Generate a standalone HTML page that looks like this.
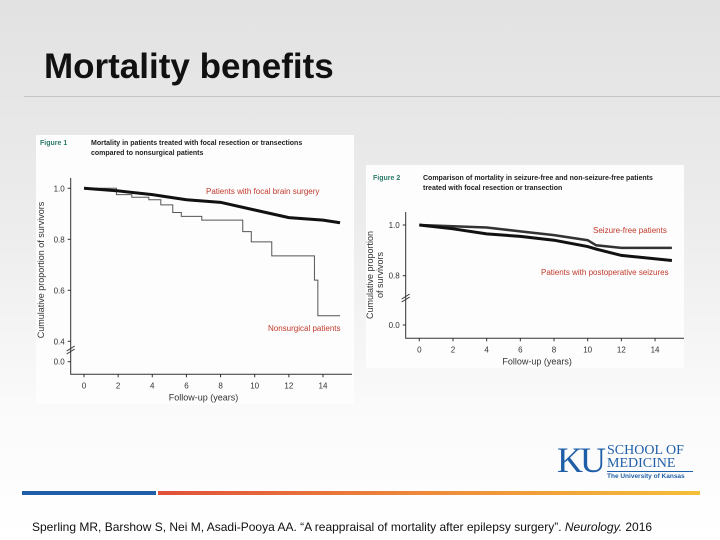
<!DOCTYPE html>
<html><head><meta charset="utf-8"><style>
body{margin:0;width:720px;height:540px;overflow:hidden;font-family:"Liberation Sans",sans-serif;}
#slide{position:relative;width:720px;height:540px;background:linear-gradient(#e2e2e2 0%,#ececec 40%,#fafafa 75%,#fff 100%);}
.abs{position:absolute;}
</style></head><body>
<div id="slide">
<div class="abs" style="left:44px;top:47px;font-size:35px;font-weight:bold;color:#111;">Mortality benefits</div>
<div class="abs" style="left:24px;top:96px;width:696px;height:1px;background:#c4c4c4;"></div>
<svg class="abs" style="left:0;top:0" width="720" height="540">
<rect x="36" y="135" width="318" height="269" fill="#fdfdfd"/>
<rect x="366" y="165" width="318" height="203" fill="#fdfdfd"/>
<g id="f1"></g>
<g id="f2"></g>
</svg>
<div class="abs" style="left:557px;top:442px;width:140px;height:40px;">
<div style="position:absolute;left:0;top:-3px;font-family:'Liberation Serif',serif;font-size:36px;color:#1f5fa8;letter-spacing:-3px;">KU</div>
<div style="position:absolute;left:50px;top:2px;font-family:'Liberation Serif',serif;font-size:14px;line-height:13px;color:#1f5fa8;">SCHOOL OF<br>MEDICINE</div>
<div style="position:absolute;left:50px;top:29px;width:86px;border-top:1px solid #1f5fa8;font-size:6.5px;font-weight:bold;color:#1f5fa8;padding-top:1px;">The University of Kansas</div>
</div>
<div class="abs" style="left:22px;top:491px;width:134px;height:4px;background:#1f5fa8;"></div>
<div class="abs" style="left:158px;top:491px;width:542px;height:4px;background:linear-gradient(90deg,#e0503a,#ee8a3a 50%,#f4bf3a);"></div>
<div class="abs" style="left:32px;top:520px;font-size:12px;color:#111;">Sperling MR, Barshow S, Nei M, Asadi-Pooya AA. “A reappraisal of mortality after epilepsy surgery”. <i>Neurology.</i> 2016</div>
</div>
<script>
const f1Years=[0,2,4,6,8,10,12,14,15];
const f1Surgery=[1.0,0.99,0.975,0.955,0.945,0.915,0.885,0.875,0.865];
const f1NonYears=[0,1.9,2.8,3.8,4.5,5.2,5.7,6.9,9.3,9.8,11,13.5,13.7,15];
const f1Nonsurg=[1.0,0.975,0.965,0.955,0.935,0.905,0.89,0.875,0.83,0.79,0.735,0.64,0.5,0.5];
const f1YTicks=["1.0","0.8","0.6","0.4"];
const f2Years=[0,2,4,6,8,10,10.5,12,15];
const f2SeizureFree=[1.0,0.995,0.99,0.975,0.96,0.94,0.92,0.91,0.91];
const f2Postop=[1.0,0.985,0.965,0.955,0.94,0.915,0.905,0.88,0.86];
const xTicks=[0,2,4,6,8,10,12,14];
const NS='http://www.w3.org/2000/svg';
function mk(p,t,a,txt){const e=document.createElementNS(NS,t);for(const k in a)e.setAttribute(k,a[k]);if(txt!==undefined)e.textContent=txt;p.appendChild(e);return e;}
function chart(g,o){
 const X=v=>o.x0+v*o.xs, Y=v=>v>=o.brk?o.yTop+(1-v)*o.ys:o.yZero;
 const ax=mk(g,'path',{d:`M${o.ax},${o.yAxT}V${o.xAxY}H${o.xAxR}`,stroke:'#333',fill:'none','stroke-width':1});
 
 xTicks.forEach(t=>{mk(g,'line',{x1:X(t),x2:X(t),y1:o.xAxY,y2:o.xAxY+3,stroke:'#333'});
  const l=mk(g,'text',{x:X(t),y:o.xAxY+14,'font-size':8,'text-anchor':'middle',fill:'#333'},t);
  });
 o.yt.concat(["0.0"]).forEach(s=>{const y=s==="0.0"?o.yZero:Y(+s);
  mk(g,'line',{x1:o.ax-3,x2:o.ax,y1:y,y2:y,stroke:'#333'});
  const l=mk(g,'text',{x:o.ax-6,y:y+3,'font-size':8,'text-anchor':'end',fill:'#333'},s);
  });
 const bk=o.brkY;mk(g,'path',{d:`M${o.ax-4},${bk+1}l8,-5M${o.ax-4},${bk+4}l8,-5`,stroke:'#333'});
 const xl=mk(g,'text',{x:X(7),y:o.xAxY+26,'font-size':9,'text-anchor':'middle',fill:'#333'},'Follow-up (years)');
 
 o.series.forEach(s=>{let d='';s.xs.forEach((x,i)=>{d+=(i?(s.step?`H${X(x)}V${Y(s.ys[i])}`:`L${X(x)},${Y(s.ys[i])}`):`M${X(x)},${Y(s.ys[i])}`);});
  const p=mk(g,'path',{d,stroke:s.c,fill:'none','stroke-width':s.w});
  });
}
const g1=document.getElementById('f1');
mk(g1,'text',{x:40,y:145,'font-size':7,fill:'#2a7a6a','font-weight':'bold'},'Figure 1');
mk(g1,'text',{x:91,y:145,'font-size':7,fill:'#222','font-weight':'bold'},'Mortality in patients treated with focal resection or transections');
mk(g1,'text',{x:91,y:155,'font-size':7,fill:'#222','font-weight':'bold'},'compared to nonsurgical patients');
const yl1=mk(g1,'text',{transform:'translate(44,270) rotate(-90)','font-size':9,'text-anchor':'middle',fill:'#333'},'Cumulative proportion of survivors');

chart(g1,{x0:84,xs:17.07,yTop:188.3,ys:255,brk:0.3,yZero:361.7,ax:70.7,yAxT:178,xAxY:374.3,xAxR:352,yt:f1YTicks,brkY:350,
 series:[{xs:f1NonYears,ys:f1Nonsurg,step:true,c:'#555',w:1,name:'nonsurgical-line'},{xs:f1Years,ys:f1Surgery,c:'#111',w:3,name:'surgery-line'}]});
mk(g1,'text',{x:206,y:194,'font-size':8,fill:'#c0392b'},'Patients with focal brain surgery');
mk(g1,'text',{x:268,y:331,'font-size':8,fill:'#c0392b'},'Nonsurgical patients');
const g2=document.getElementById('f2');
mk(g2,'text',{x:373,y:180,'font-size':7,fill:'#2a7a6a','font-weight':'bold'},'Figure 2');
mk(g2,'text',{x:423,y:180,'font-size':7,fill:'#222','font-weight':'bold'},'Comparison of mortality in seizure-free and non-seizure-free patients');
mk(g2,'text',{x:423,y:190,'font-size':7,fill:'#222','font-weight':'bold'},'treated with focal resection or transection');
mk(g2,'text',{transform:'translate(373,275) rotate(-90)','font-size':9,'text-anchor':'middle',fill:'#333'},'Cumulative proportion');
mk(g2,'text',{transform:'translate(383,275) rotate(-90)','font-size':9,'text-anchor':'middle',fill:'#333'},'of survivors');
chart(g2,{x0:419.3,xs:16.84,yTop:225,ys:253.5,brk:0.5,yZero:325,ax:405.7,yAxT:212,xAxY:338.3,xAxR:684,yt:["1.0","0.8"],brkY:298,
 series:[{xs:f2Years,ys:f2SeizureFree,c:'#333',w:2.5,name:'seizure-free-line'},{xs:f2Years,ys:f2Postop,c:'#111',w:3,name:'postop-seizures-line'}]});
mk(g2,'text',{x:593,y:233,'font-size':8,fill:'#c0392b'},'Seizure-free patients');
mk(g2,'text',{x:541,y:275,'font-size':8,fill:'#c0392b'},'Patients with postoperative seizures');
</script>
</body></html>
